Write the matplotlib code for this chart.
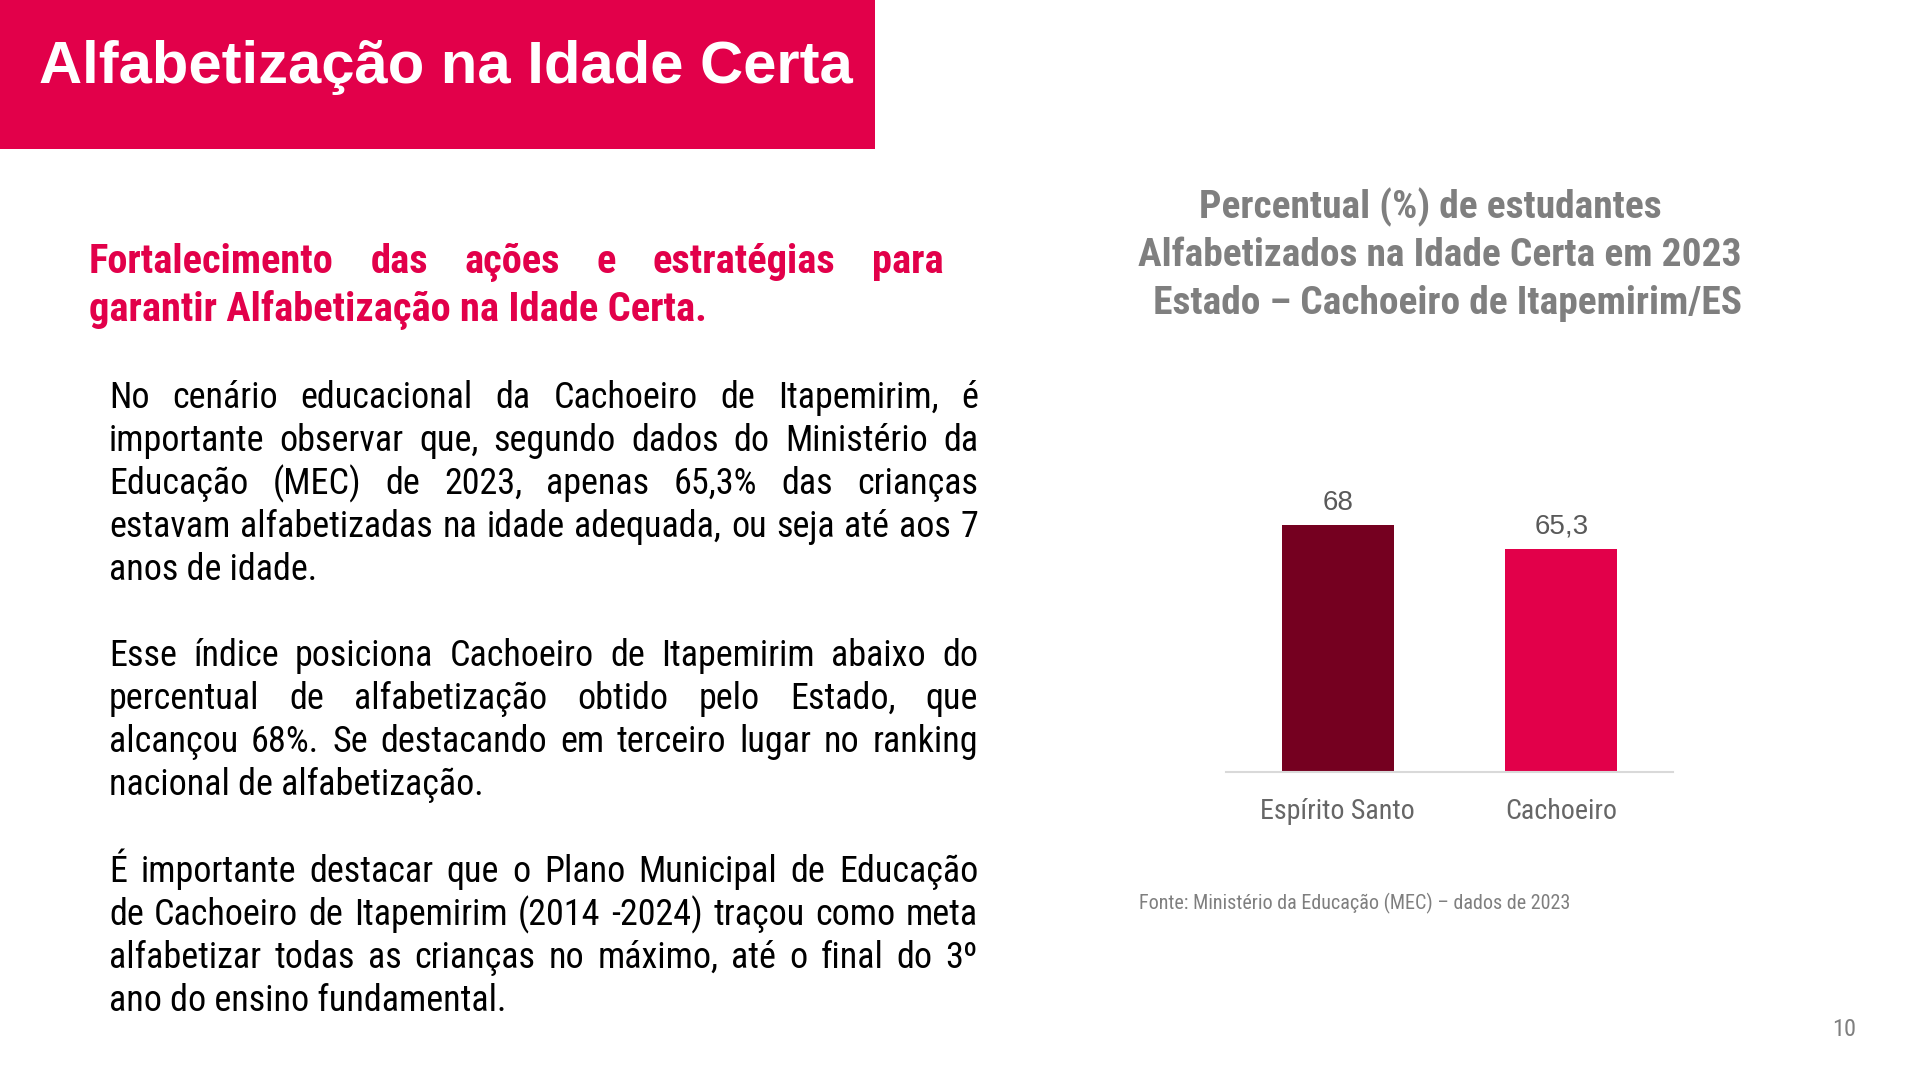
import matplotlib
matplotlib.use('Agg')
import matplotlib.pyplot as plt
from matplotlib import font_manager
from matplotlib.font_manager import FontProperties
from matplotlib.patches import Rectangle

# data
categories = ['Espírito Santo', 'Cachoeiro']
values = [68, 65.3]
value_labels = ['68', '65,3']
bar_colors = ['#750020', '#E2004A']

page_title = 'Alfabetização na Idade Certa'
subtitle_lines = ['Fortalecimento das ações e estratégias para',
                  'garantir Alfabetização na Idade Certa.']
chart_title = ['Percentual (%) de estudantes',
               'Alfabetizados na Idade Certa em 2023',
               ' Estado – Cachoeiro de Itapemirim/ES']
paragraphs = [
    ['No cenário educacional da Cachoeiro de Itapemirim, é',
     'importante observar que, segundo dados do Ministério da',
     'Educação (MEC) de 2023, apenas 65,3% das crianças',
     'estavam alfabetizadas na idade adequada, ou seja até aos 7',
     'anos de idade.'],
    ['Esse índice posiciona Cachoeiro de Itapemirim abaixo do',
     'percentual de alfabetização obtido pelo Estado, que',
     'alcançou 68%. Se destacando em terceiro lugar no ranking',
     'nacional de alfabetização.'],
    ['É importante destacar que o Plano Municipal de Educação',
     'de Cachoeiro de Itapemirim (2014 -2024) traçou como meta',
     'alfabetizar todas as crianças no máximo, até o final do 3º',
     'ano do ensino fundamental.'],
]
source = 'Fonte: Ministério da Educação (MEC) – dados de 2023'
page_no = '10'

RED = '#E2004A'
GRAY = '#7F7F7F'

# pick a condensed family if one is there
names = {f.name for f in font_manager.fontManager.ttflist}
cond = None
for cand in ['Liberation Sans Narrow', 'Roboto Condensed', 'Open Sans Condensed']:
    if cand in names:
        cond = cand
        break


def cfont(size, bold=False):
    if cond:
        return FontProperties(family=cond, weight='bold' if bold else 'normal', size=size)
    return FontProperties(family='DejaVu Sans', stretch='condensed',
                          weight='bold' if bold else 'normal', size=size)


def rfont(size, bold=False):
    return FontProperties(family=['Liberation Sans', 'DejaVu Sans'],
                          weight='bold' if bold else 'normal', size=size)


fig = plt.figure(figsize=(19.2, 10.8), dpi=100)
bg = fig.add_axes([0, 0, 1, 1])
bg.set_xlim(0, 1920)
bg.set_ylim(1080, 0)
bg.axis('off')
renderer = fig.canvas.get_renderer()


def width_of(s, fp):
    t = bg.text(0, 0, s, fontproperties=fp)
    w = t.get_window_extent(renderer=renderer).width
    t.remove()
    return w


def fit(s, target, maker, bold=False):
    w = width_of(s, maker(20, bold))
    return 20 * target / w


def put_line(s, x0, x1, y, fp, color, justify):
    if not justify:
        bg.text(x0, y, s, fontproperties=fp, color=color, va='baseline', ha='left')
        return
    words = s.split(' ')
    widths = [width_of(w, fp) for w in words]
    gap = (x1 - x0 - sum(widths)) / (len(words) - 1)
    x = x0
    for w, wd in zip(words, widths):
        bg.text(x, y, w, fontproperties=fp, color=color, va='baseline', ha='left')
        x += wd + gap


# header box
bg.add_patch(Rectangle((0, 0), 875, 149, color=RED, lw=0))
ts = fit(page_title, 814, rfont, True)
bg.text(39, 83, page_title, fontproperties=rfont(ts, True), color='white', va='baseline')

# red subtitle
ss = fit(subtitle_lines[1], 616, cfont, True)
put_line(subtitle_lines[0], 89, 944, 273, cfont(ss, True), RED, True)
put_line(subtitle_lines[1], 89, 944, 321, cfont(ss, True), RED, False)

# body text
bs = fit('ano do ensino fundamental.', 397, cfont)
para_tops = [408, 666, 882]
for top, lines in zip(para_tops, paragraphs):
    for i, line in enumerate(lines):
        put_line(line, 109, 978, top + i * 43, cfont(bs), 'black', i < len(lines) - 1)

# chart title
cs = fit(chart_title[1], 602, cfont, True)
for y, cx, line in zip([218, 266, 314], [1430, 1440, 1443], chart_title):
    bg.text(cx, y, line, fontproperties=cfont(cs, True), color=GRAY,
            ha='center', va='baseline')

# bar chart
x0, x1 = 1226, 1673
ybase, ytop = 772, 772 - 30 * 247 / 28
ax = fig.add_axes([x0 / 1920, (1080 - ybase) / 1080,
                   (x1 - x0) / 1920, (ybase - ytop) / 1080])
xs = list(range(len(categories)))
ax.bar(xs, values, width=0.5, color=bar_colors)
ax.set_xlim(-0.5, 1.5)
ax.set_ylim(40, 70)
ax.set_yticks([])
for side in ['top', 'right', 'left']:
    ax.spines[side].set_visible(False)
ax.spines['bottom'].set_color('#D9D9D9')
ax.spines['bottom'].set_linewidth(1.5)
ax.set_facecolor('none')
ls = fit(categories[0], 154, cfont)
ax.set_xticks(xs, categories, fontproperties=cfont(ls), color='#666666')
ax.tick_params(axis='x', length=0, pad=19)
for xi, v, lab in zip(xs, values, value_labels):
    ax.annotate(lab, (xi, v), xytext=(0, 11), textcoords='offset points',
                ha='center', va='baseline', fontproperties=rfont(20), color='#595959')

# source and page number
fs = fit(source, 431, cfont)
bg.text(1139, 909, source, fontproperties=cfont(fs), color=GRAY, va='baseline')
ps = fit(page_no, 24, cfont)
bg.text(1856, 1036, page_no, fontproperties=cfont(ps), color=GRAY, ha='right', va='baseline')

fig.savefig('out.png', dpi=100, facecolor='white')
